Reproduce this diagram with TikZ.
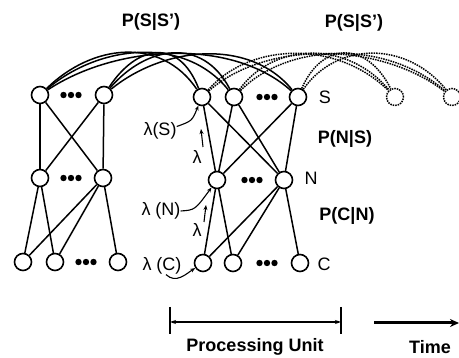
\documentclass[tikz,border=0pt]{standalone}
\usepackage{fontspec}
\setmainfont{Liberation Sans}
\usetikzlibrary{arrows.meta}
\newcommand\dotrow[2]{\foreach \dd in {-7.5,0,7.5}{\fill ({#1+\dd},#2) circle (3.2pt);}}
\begin{document}
\begin{tikzpicture}[x=1pt,y=-1pt,
  unit/.style={circle,draw,line width=1.6pt,minimum size=17pt,inner sep=0pt,fill=white},
  ghost/.style={circle,draw,line width=1.5pt,densely dotted,minimum size=17pt,inner sep=0pt},
  link/.style={line width=1.5pt},
  sarc/.style={line width=1.5pt},
  darc/.style={line width=1.5pt,densely dotted},
  hook/.style={line width=1.1pt,-{Stealth[length=5pt,width=4pt]}},
  lbl/.style={font=\fontsize{18}{20}\selectfont\bfseries,inner sep=0pt},
  var/.style={font=\fontsize{18}{20}\selectfont,inner sep=0pt},
]
\useasboundingbox (0,0) rectangle (459,358);

% left unit
\node[unit] (ls1) at (40,95) {};
\node[unit] (ls2) at (104,95) {};
\node[unit] (ln1) at (40,178) {};
\node[unit] (ln2) at (103,178) {};
\node[unit] (lc1) at (23,262) {};
\node[unit] (lc2) at (55,262) {};
\node[unit] (lc3) at (118,262) {};
\dotrow{71}{95}
\dotrow{71}{178}
\dotrow{86}{262}

% middle unit
\node[unit] (ms1) at (202,97) {};
\node[unit] (ms2) at (234,97) {};
\node[unit] (ms3) at (298,97) {};
\node[unit] (mn1) at (217,180) {};
\node[unit] (mn2) at (284,180) {};
\node[unit] (mc1) at (203,263) {};
\node[unit] (mc2) at (233,263) {};
\node[unit] (mc3) at (300,263) {};
\dotrow{267}{97}
\dotrow{252}{180}
\dotrow{267}{263}

% future ghosts
\node[ghost] (rs1) at (395,97) {};
\node[ghost] (rs2) at (452,97) {};

% S-N links
\foreach \s in {ls1,ls2}{\foreach \n in {ln1,ln2}{\draw[link] (\s) -- (\n);}}
\foreach \s in {ms1,ms2,ms3}{\foreach \n in {mn1,mn2}{\draw[link] (\s) -- (\n);}}
% N-C links
\draw[link] (ln1) -- (lc1); \draw[link] (ln1) -- (lc2);
\draw[link] (ln2) -- (lc1); \draw[link] (ln2) -- (lc2); \draw[link] (ln2) -- (lc3);
\draw[link] (mn1) -- (mc1); \draw[link] (mn1) -- (mc2);
\draw[link] (mn2) -- (mc1); \draw[link] (mn2) -- (mc2); \draw[link] (mn2) -- (mc3);

% transition arcs (solid)
\draw[sarc] (ls1) .. controls (92,44) and (161,36) .. (ms1);
\draw[sarc] (ls1) .. controls (100,44) and (185,36) .. (ms2);
\draw[sarc] (ls1) .. controls (117,44) and (233,38) .. (ms3);
\draw[sarc] (ls2) .. controls (136,46) and (178,36) .. (ms1);
\draw[sarc] (ls2) .. controls (146,46) and (202,36) .. (ms2);
\draw[sarc] (ls2) .. controls (164,46) and (250,38) .. (ms3);
% transition arcs (dotted)
\draw[darc] (ms1) .. controls (250,42) and (337,40) .. (rs1);
\draw[darc] (ms1) .. controls (264,42) and (377,40) .. (rs2);
\draw[darc] (ms2) .. controls (274,42) and (347,40) .. (rs1);
\draw[darc] (ms2) .. controls (289,42) and (387,40) .. (rs2);
\draw[darc] (ms3) .. controls (322,42) and (366,40) .. (rs1);
\draw[darc] (ms3) .. controls (336,42) and (406,40) .. (rs2);

% labels
\node[lbl] (pss1) at (151,22) {P(S|S')};
\node[lbl] (pss2) at (354,23) {P(S|S')};
\node[lbl] (pns) at (345,139) {P(N|S)};
\node[lbl] (pcn) at (347,216) {P(C|N)};
\node[var] (labS) at (325,97) {S};
\node[var] (labN) at (311,178) {N};
\node[var] (labC) at (324,264) {C};

% lambda labels
\node[var] (lamS) at (160,131) {λ(S)};
\node[var] (lamN) at (161,211) {λ (N)};
\node[var] (lamC) at (162,266) {λ (C)};
\draw[hook] (lamS.15) .. controls (192,121) .. (ms1);
\draw[hook] (lamN.east) .. controls (195,210) .. (mn1);
\draw[hook] (lamC.-65) .. controls (176,284) and (186,274) .. (mc1);

\node[var] (lp1) at (197,157) {λ};
\coordinate (a1s) at (203,147);
\coordinate (a1e) at (201,129);
\draw[hook] (a1s) -- (a1e);
\node[var] (lp2) at (197,230) {λ};
\coordinate (a2s) at (204,222);
\coordinate (a2e) at (206,205);
\draw[hook] (a2s) -- (a2e);

% processing unit
\coordinate (pl) at (170,322);
\coordinate (pr) at (341,322);
\coordinate (pl1) at (170,307);
\coordinate (pl2) at (170,334);
\coordinate (pr1) at (341,307);
\coordinate (pr2) at (341,334);
\draw[line width=1.3pt] (pl1) -- (pl2);
\draw[line width=1.3pt] (pr1) -- (pr2);
\draw[line width=1.3pt,{Stealth[length=6pt,width=4pt]}-{Stealth[length=6pt,width=4pt]}] (pl) -- (pr);
\node[lbl] (pu) at (255,347) {Processing Unit};

% time
\coordinate (t0) at (374,323);
\coordinate (t1) at (459,323);
\draw[line width=3pt,-{Stealth[length=9pt,width=8pt]}] (t0) -- (t1);
\node[lbl] (tm) at (430,347) {Time};
\end{tikzpicture}
\end{document}
